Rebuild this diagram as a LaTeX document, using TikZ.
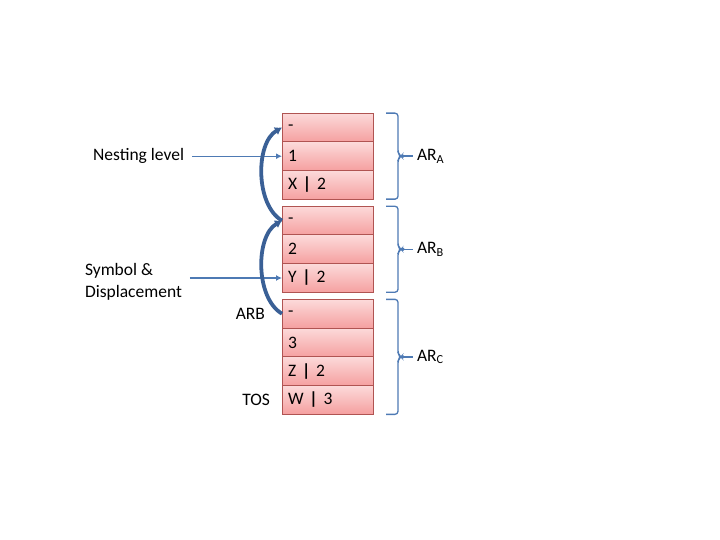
\documentclass[tikz,border=0pt]{standalone}
\usepackage{fontspec}
\setmainfont{Carlito}
\usepackage{tikz}
\usetikzlibrary{positioning, arrows.meta}
\definecolor{celledge}{RGB}{176,84,82}
\definecolor{celltop}{RGB}{252,218,218}
\definecolor{cellbot}{RGB}{245,160,160}
\definecolor{linkblue}{RGB}{58,96,150}
\definecolor{ptrblue}{RGB}{78,122,180}
\tikzstyle{cell} = [draw=celledge, line width=0.9pt, top color=celltop, bottom color=cellbot,
  minimum height=28.7pt, text width=79pt, inner xsep=6pt, inner ysep=0pt, outer sep=0pt, align=left]
\tikzstyle{lbl} = [inner sep=4pt, outer sep=0pt]
\tikzstyle{link} = [linkblue, line width=3.8pt, -{Latex[length=7pt,width=9pt]}]
\tikzstyle{ptr} = [ptrblue, line width=1.3pt, -{Latex[length=6pt,width=6pt]}]
\tikzstyle{bracket} = [ptrblue, line width=1.3pt, rounded corners=3pt]
\tikzstyle{tick} = [ptrblue, line width=1.3pt, {Circle[length=3.5pt]}-]

\begin{document}
\begin{tikzpicture}[x=1pt, y=-1pt, node distance=0pt]
\fontsize{17.5}{22}\selectfont
\useasboundingbox (0,0) rectangle (720,540);

% stack of records
\node[cell] (a0) at (327.5,127.5) {-};
\node[cell, below=of a0] (a1) {1};
\node[cell, below=of a1] (a2) {X \textbf{|} 2};
\node[cell, below=7pt of a2] (b0) {-};
\node[cell, below=of b0] (b1) {2};
\node[cell, below=of b1] (b2) {Y \textbf{|} 2};
\node[cell, below=7pt of b2] (c0) {-};
\node[cell, below=of c0] (c1) {3};
\node[cell, below=of c1] (c2) {Z \textbf{|} 2};
\node[cell, below=of c2] (c3) {W \textbf{|} 3};

% left labels
\node[lbl, left=94pt of a1] (nest) {Nesting level};
\node[lbl, align=left, anchor=west] (sym) at (81,282) {Symbol \&\\Displacement};
\node[lbl, left=13pt of c0] (arb) {ARB};
\node[lbl, left=8pt of c3] (tos) {TOS};

\draw [ptr, shorten <=4pt] (nest) -- (a1);
\draw [ptr, shorten <=4pt] (sym.east |- b2.west) -- (b2.west);

% control links
\draw [link] (b0.west) to[out=150, in=210, looseness=0.85] (a0.west);
\draw [link] (c0.west) to[out=150, in=210, looseness=0.85] (b0.west);

% activation records
\draw [bracket] ([xshift=13pt]a0.north east) -- ++(12,0) -- ++(0,40) -- ++(3,3) coordinate (ta)
  -- ++(-3,3) -- ++(0,40) -- ++(-12,0);
\draw [bracket] ([xshift=13pt]b0.north east) -- ++(12,0) -- ++(0,40) -- ++(3,3) coordinate (tb)
  -- ++(-3,3) -- ++(0,40) -- ++(-12,0);
\draw [bracket] ([xshift=13pt]c0.north east) -- ++(12,0) -- ++(0,54.5) -- ++(3,3) coordinate (tc)
  -- ++(-3,3) -- ++(0,54.5) -- ++(-12,0);

\node[lbl, right=12pt of ta] (ara) {AR\textsubscript{A}};
\node[lbl, right=12pt of tb] (arbb) {AR\textsubscript{B}};
\node[lbl, right=12pt of tc] (arc) {AR\textsubscript{C}};

\draw [tick] (ta) -- (ara);
\draw [tick] (tb) -- (arbb);
\draw [tick] (tc) -- (arc);
\end{tikzpicture}
\end{document}
